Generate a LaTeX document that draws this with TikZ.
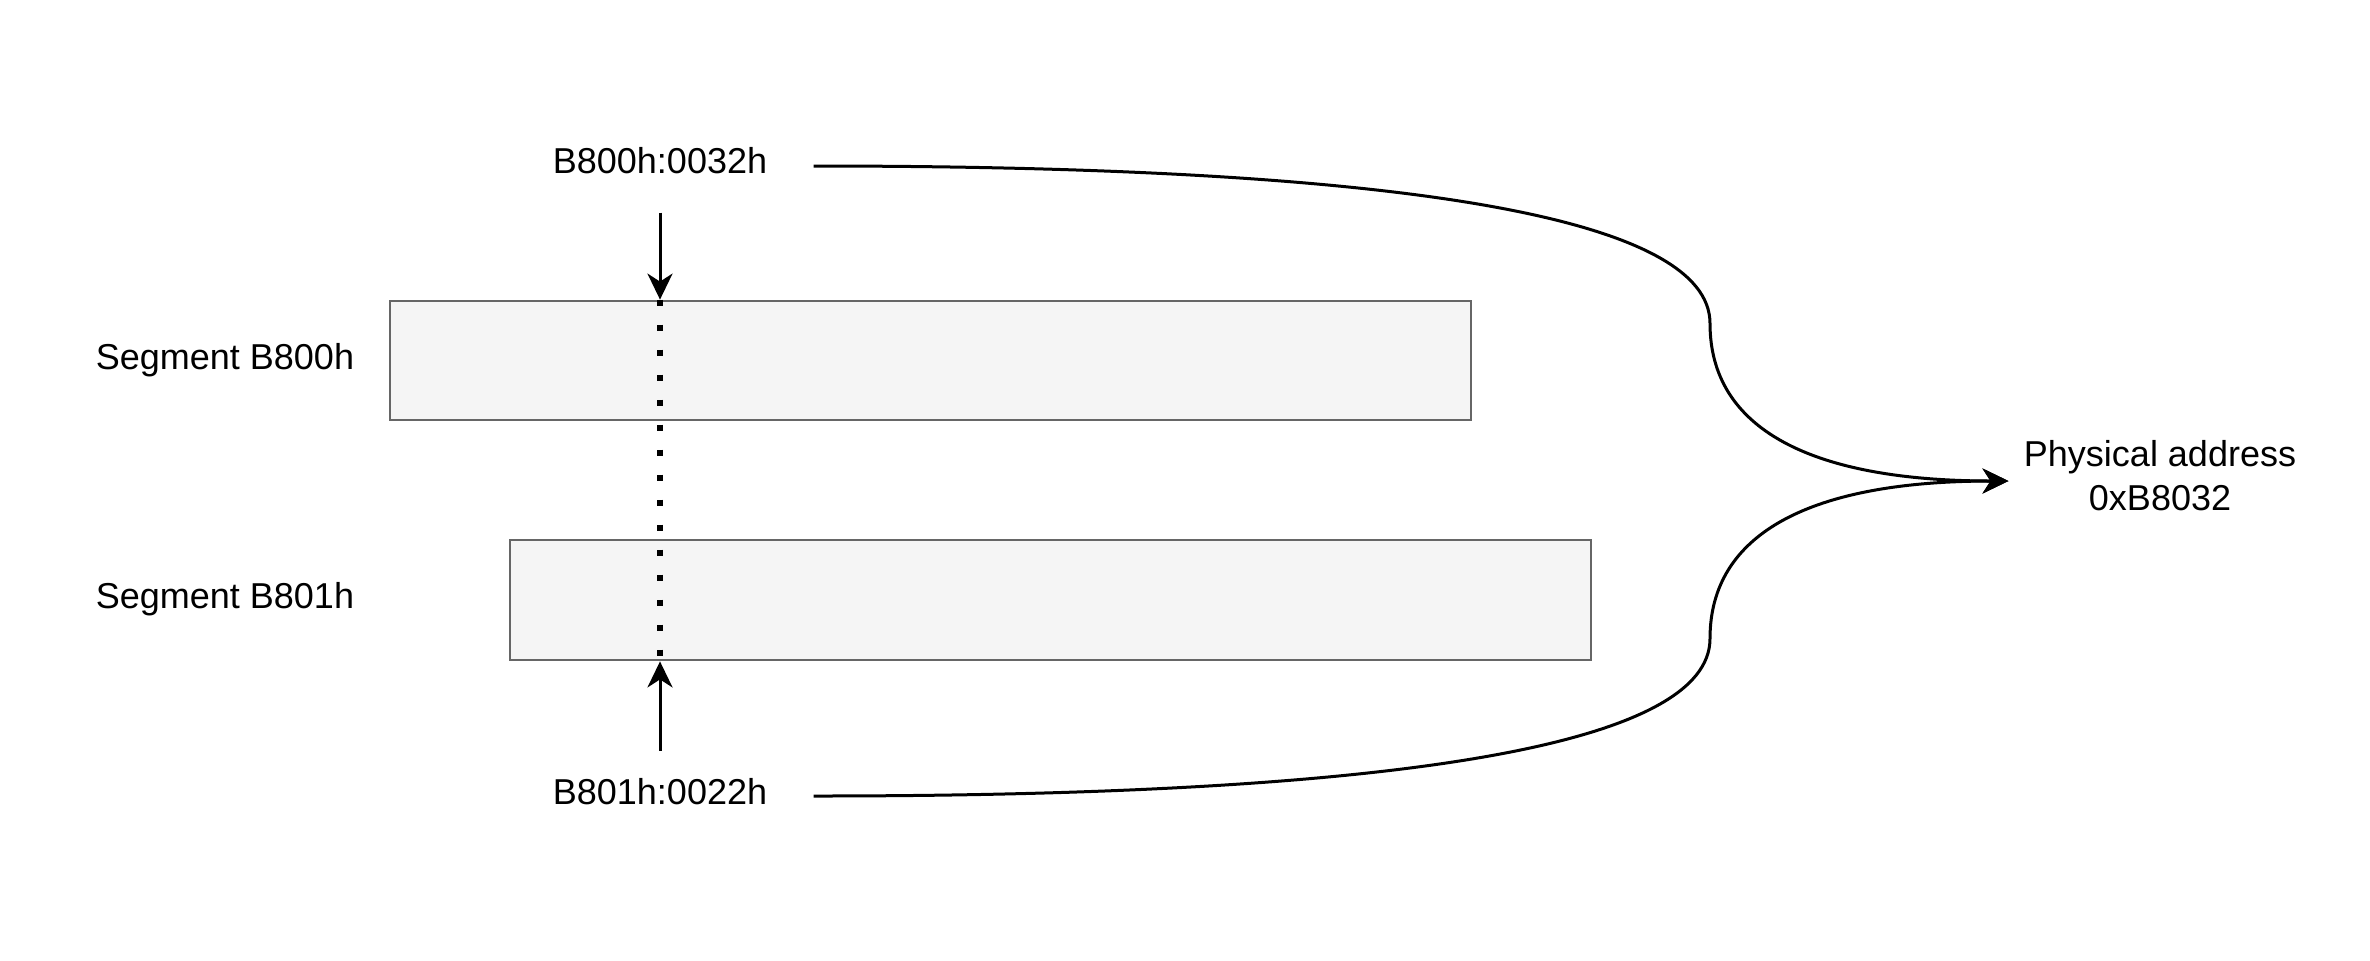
\documentclass[tikz,border=0pt]{standalone}
\usepackage{fontspec}
\setmainfont{Liberation Sans}
\usetikzlibrary{arrows.meta}
\definecolor{segfill}{HTML}{F5F5F5}
\definecolor{segline}{HTML}{666666}

\begin{document}
\begin{tikzpicture}[x=0.5pt,y=-0.5pt,line width=1.5pt,
  >={Stealth[length=13pt,width=12.5pt,inset=4pt]},
  seg box/.style={draw=segline,fill=segfill,line width=1.4pt,minimum width=540.5pt,
    minimum height=59.5pt,inner sep=0pt},
  addr/.style={font=\fontsize{18}{22}\selectfont,inner sep=0pt,align=center}]

  \useasboundingbox (0,0) rectangle (2370,960);

  \node[seg box] (seg1) at (930.5,360.5) {};
  \node[seg box,minimum height=60pt] (seg2) at (1050.5,600) {};

  \node[addr] (seg1 label) at (225,360) {Segment B800h};
  \node[addr] (seg2 label) at (225,599) {Segment B801h};

  \node[addr,minimum width=152pt,minimum height=50pt] (far1) at (660,161) {B800h:0032h};
  \node[addr,minimum width=152pt,minimum height=40pt] (far2) at (660,792) {B801h:0022h};
  \node[addr,minimum width=150pt] (phys) at (2160,476) {Physical address\\0xB8032};

  % offsets into each segment
  \draw[->] (far1.south) -- (far1.south |- seg1.north);
  \draw[->] (far2.north) -- (far2.north |- seg2.south);
  \draw[line width=3pt,dash pattern=on 3pt off 9.5pt] (far1.south |- seg1.north) -- (far2.north |- seg2.south);

  % both give the same address
  \draw[->] ([yshift=-2.5pt]far1.east) .. controls (1410.7,166) and (1710,218.5) .. (1710,323.5)
    .. controls (1710,428.5) and (1810,481) .. ([yshift=-2.5pt]phys.west);
  \draw[->] ([yshift=-2pt]far2.east) .. controls (1410.7,796) and (1710,743.5) .. (1710,638.5)
    .. controls (1710,533.5) and (1810,481) .. ([yshift=-2.5pt]phys.west);
\end{tikzpicture}
\end{document}
